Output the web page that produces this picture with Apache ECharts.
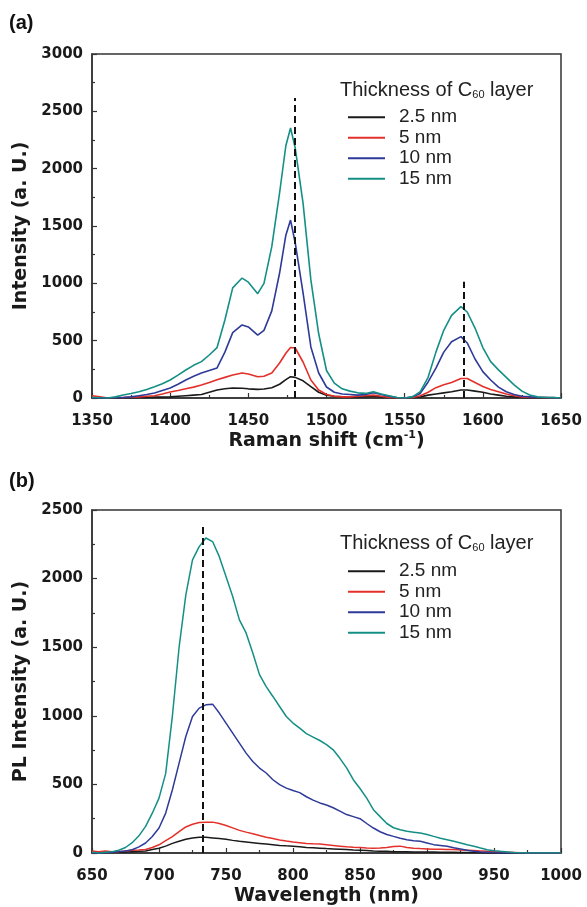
<!DOCTYPE html>
<html><head><meta charset="utf-8">
<script src="https://cdn.jsdelivr.net/npm/echarts@6/dist/echarts.min.js"></script>
<style>html,body{margin:0;padding:0;background:#fff}#c{width:587px;height:907px}</style>
</head><body><div id="c"></div>
<script>
const seriesNames = ['2.5 nm', '5 nm', '10 nm', '15 nm'];
const seriesColors = ['#1a1a1a', '#e3302b', '#2e3a98', '#148f86'];

// (a) Raman spectra
const ramanX = [1350,1355,1360,1365,1370,1375,1380,1385,1390,1395,1400,1405,1410,1415,1420,1425,1430,1435,1440,
  1446,1450,1456,1460,1465,1470,1474,1477,1480,
  1485,1490,1495,1500,1505,1510,1515,1520,1525,1530,1535,1540,1545,1550,1555,1560,1565,1570,1575,1580,
  1586,1590,
  1595,1600,1605,1610,1615,1620,1625,1630,1635,1640,1645,1650];
const raman25 = [0,0,0,0,2,3,5,5,8,8,10,15,20,25,30,50,70,80,87,
  85,80,75,78,90,120,160,186,180,
  150,100,50,25,15,10,8,10,12,15,10,5,0,0,5,10,25,35,45,55,
  70,70,
  60,50,35,25,15,10,5,3,2,0,0,0];
const raman5 = [20,10,0,5,5,8,10,15,20,35,52,65,80,95,113,135,160,180,200,
  218,210,185,190,218,305,390,440,436,
  314,157,70,30,15,10,10,15,20,25,15,5,0,0,5,20,50,90,115,135,
  170,170,
  135,100,75,55,35,20,10,5,5,3,0,0];
const raman10 = [0,0,0,2,5,10,20,30,43,65,87,120,157,190,218,240,262,400,570,
  637,620,549,590,760,1090,1420,1552,1352,
  916,445,218,96,50,35,30,25,30,45,30,15,5,0,10,40,140,260,400,490,
  535,480,
  340,230,157,95,55,30,15,10,5,5,3,0];
const raman15 = [5,2,0,10,26,40,55,75,99,125,157,200,244,285,317,375,440,680,960,
  1046,1010,910,1000,1320,1790,2200,2355,2180,
  1700,1030,560,240,130,80,60,45,40,55,35,20,5,0,10,55,180,400,590,720,
  797,750,
  610,440,317,245,180,115,60,26,10,5,3,0];
const ramanMarkX = [1480, 1588];
const ramanMarkTop = [2616, 1014];

// (b) PL spectra
const plX = [650,655,660,665,670,675,680,685,690,695,700,
  705,710,715,720,725,730,735,740,745,750,
  755,760,765,770,775,780,785,790,795,800,
  805,810,815,820,825,830,835,840,845,850,
  855,860,865,870,875,880,885,890,895,900,
  905,910,915,920,925,930,935,940,945,950,
  955,960,965,970,975,980,985,990,995,1000];
const pl25 = [5,5,5,5,5,8,10,12,15,25,35,
  50,70,85,100,110,115,115,110,105,100,
  92,85,80,75,70,65,60,55,52,50,
  45,40,38,35,32,30,28,25,22,20,
  18,15,13,12,10,10,9,8,8,8,
  7,6,5,5,4,3,3,2,1,0,
  0,0,0,0,0,0,0,0,0,0];
const pl5 = [15,10,15,10,10,15,20,22,25,40,60,
  90,120,155,190,210,222,225,225,215,200,
  183,165,152,140,127,115,105,95,87,80,
  75,70,67,65,60,55,50,45,42,40,
  37,35,37,40,48,50,40,35,32,30,
  28,27,25,25,22,20,18,15,12,10,
  8,6,4,2,0,0,0,0,0,0];
const pl10 = [0,0,0,5,10,15,24,45,73,120,182,
  291,461,655,849,995,1056,1080,1085,1020,947,
  874,801,728,667,619,583,534,498,473,455,
  440,410,385,365,350,330,305,280,265,250,
  215,182,155,135,121,108,97,90,85,73,
  61,55,49,38,29,20,12,8,5,2,
  0,0,0,0,0,0,0,0,0,0];
const pl15 = [5,0,5,10,20,40,75,125,194,290,400,
  580,1000,1500,1880,2136,2233,2296,2270,2160,2015,
  1869,1699,1604,1458,1300,1213,1141,1068,995,947,
  910,870,845,820,790,752,690,620,534,470,
  400,316,265,215,184,170,158,152,146,135,
  121,108,97,85,73,60,49,36,24,17,
  12,8,4,2,0,0,0,0,0,0];
const plMarkX = [733];
const plMarkTop = [2376];

const ramanY = [raman25, raman5, raman10, raman15];
const plY = [pl25, pl5, pl10, pl15];

const tickFont = {fontFamily: 'DejaVu Sans', fontWeight: 'bold', fontSize: 15, color: '#1a1a1a'};
const nameFont = {fontFamily: 'DejaVu Sans', fontWeight: 'bold', fontSize: 19, color: '#1a1a1a',
  rich: {sup: {fontFamily: 'DejaVu Sans', fontWeight: 'bold', fontSize: 11, color: '#1a1a1a', verticalAlign: 'top', lineHeight: 22}}};
const axisLineStyle = {color: '#333', width: 1.5};

function xAxisCfg(grid, min, max, name, gap) {
  return {type: 'value', gridIndex: grid, min: min, max: max, interval: 50,
    axisLine: {show: true, onZero: false, lineStyle: axisLineStyle},
    axisTick: {show: true, inside: true, length: 5, lineStyle: {color: '#333', width: 1.2}},
    minorTick: {show: true, splitNumber: 2, length: 3, lineStyle: {color: '#333', width: 1.2}},
    splitLine: {show: false},
    axisLabel: Object.assign({margin: 16, formatter: v => String(v)}, tickFont),
    name: name, nameLocation: 'middle', nameGap: gap, nameTextStyle: nameFont};
}
function yAxisCfg(grid, max, name) {
  return {type: 'value', gridIndex: grid, min: 0, max: max, interval: 500,
    axisLine: {show: true, onZero: false, lineStyle: axisLineStyle},
    axisTick: {show: true, inside: true, length: 5, lineStyle: {color: '#333', width: 1.2}},
    minorTick: {show: true, splitNumber: 2, length: 3, lineStyle: {color: '#333', width: 1.2}},
    splitLine: {show: false},
    axisLabel: Object.assign({margin: 9, formatter: v => String(v)}, tickFont),
    name: name, nameLocation: 'middle', nameGap: 58, nameTextStyle: nameFont};
}

const series = [];
seriesNames.forEach((n, i) => {
  const s = {name: n, type: 'line', xAxisIndex: 0, yAxisIndex: 0, showSymbol: false, symbol: 'none',
    lineStyle: {width: 1.6, color: seriesColors[i]}, itemStyle: {color: seriesColors[i]},
    data: ramanX.map((x, k) => [x, ramanY[i][k]]), silent: true};
  if (i === 0) {
    s.markLine = {silent: true, symbol: ['none', 'none'], label: {show: false},
      lineStyle: {type: [7, 4], width: 2, color: '#111'}, emphasis: {disabled: true},
      data: ramanMarkX.map((x, k) => [{coord: [x, 0]}, {coord: [x, ramanMarkTop[k]]}])};
  }
  series.push(s);
});
seriesNames.forEach((n, i) => {
  const s = {name: n, type: 'line', xAxisIndex: 1, yAxisIndex: 1, showSymbol: false, symbol: 'none',
    lineStyle: {width: 1.5, color: seriesColors[i]}, itemStyle: {color: seriesColors[i]},
    data: plX.map((x, k) => [x, plY[i][k]]), silent: true};
  if (i === 0) {
    s.markLine = {silent: true, symbol: ['none', 'none'], label: {show: false},
      lineStyle: {type: [7, 4], width: 2, color: '#111'}, emphasis: {disabled: true},
      data: plMarkX.map((x, k) => [{coord: [x, 0]}, {coord: [x, plMarkTop[k]]}])};
  }
  series.push(s);
});

const legendCommon = {orient: 'vertical', left: 348, padding: 0, icon: 'rect', itemWidth: 37, itemHeight: 2, itemGap: 0,
  selectedMode: false, data: seriesNames,
  textStyle: {fontFamily: 'Liberation Sans', fontSize: 19, color: '#222', lineHeight: 20.5, padding: [0, 0, 0, 9]}};
const titleStyle = {fontFamily: 'Liberation Sans', fontWeight: 'normal', fontSize: 20, color: '#222', lineHeight: 20,
  rich: {sub: {fontFamily: 'Liberation Sans', fontSize: 11, color: '#222', verticalAlign: 'bottom', lineHeight: 20}}};
const panelStyle = {fontFamily: 'Liberation Sans', fontWeight: 'bold', fontSize: 20, color: '#111'};

const chart = echarts.init(document.getElementById('c'), null, {renderer: 'canvas'});
chart.setOption({
  animation: false,
  backgroundColor: '#fff',
  title: [
    {text: '(a)', left: 9, top: 13, padding: 0, textStyle: panelStyle},
    {text: '(b)', left: 9, top: 471, padding: 0, textStyle: panelStyle},
    {text: 'Thickness of C{sub|60} layer', left: 340, top: 80, padding: 0, textStyle: titleStyle},
    {text: 'Thickness of C{sub|60} layer', left: 340, top: 533, padding: 0, textStyle: titleStyle}
  ],
  legend: [
    Object.assign({top: 107}, legendCommon),
    Object.assign({top: 561}, legendCommon)
  ],
  grid: [
    {left: 92, right: 26, top: 54, height: 344, show: true, borderColor: '#333', borderWidth: 1.5, backgroundColor: 'transparent'},
    {left: 92, right: 26, top: 510, height: 343, show: true, borderColor: '#333', borderWidth: 1.5, backgroundColor: 'transparent'}
  ],
  xAxis: [
    xAxisCfg(0, 1350, 1650, 'Raman shift (cm{sup|-1})', 31),
    xAxisCfg(1, 650, 1000, 'Wavelength (nm)', 34)
  ],
  yAxis: [
    yAxisCfg(0, 3000, 'Intensity (a. U.)'),
    yAxisCfg(1, 2500, 'PL Intensity (a. U.)')
  ],
  series: series
});
</script>
</body></html>
